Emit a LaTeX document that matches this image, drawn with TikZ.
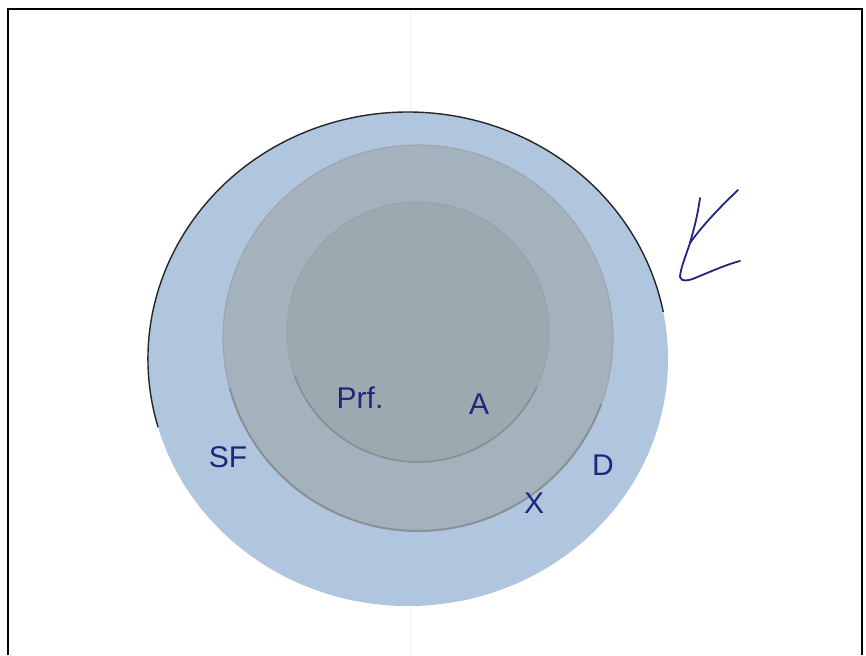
\documentclass[tikz,border=0pt]{standalone}
\usepackage{fontspec}
\setmainfont{Liberation Sans}
\begin{document}
\begin{tikzpicture}[x=1pt,y=-1pt,
  hand/.style={text=ink, font=\fontsize{30}{32}\selectfont, inner sep=0pt},
  pen/.style={draw=ink, line width=1.8pt, line cap=round, line join=round}]
\definecolor{ink}{RGB}{32,38,125}
\definecolor{outerc}{RGB}{176,198,222}
\definecolor{midc}{RGB}{164,178,190}
\definecolor{innc}{RGB}{157,169,176}
\useasboundingbox (0,0) rectangle (866,655);
\fill[white] (0,0) rectangle (866,655);
% frame
\draw[line width=1.3pt] (8,655) -- (8,9) -- (862,9) -- (862,655);
% faint fold line
\draw[gray!12, line width=0.8pt] (410,10) -- (410,112);
\draw[gray!12, line width=0.8pt] (410,605) -- (410,655);
% circles
\fill[outerc] (408,359) ellipse [x radius=260, y radius=247];
\draw[black!85, line width=1.4pt] (408,359) ++(164:260 and 247) arc[start angle=164, end angle=349, x radius=260, y radius=247];
\fill[midc] (418,338) ellipse [x radius=195, y radius=193];
\draw[black!40, line width=1.2pt, opacity=0.6] (418,338) ellipse [x radius=195, y radius=193];
\draw[black!55, line width=2.2pt, opacity=0.45] (418,338) ++(20:195 and 193) arc[start angle=20, end angle=165, x radius=195, y radius=193];
\fill[innc] (418,332) ellipse [x radius=131, y radius=130];
\draw[black!40, line width=1pt, opacity=0.6] (418,332) ellipse [x radius=131, y radius=130];
\draw[black!55, line width=1.8pt, opacity=0.4] (418,332) ++(25:131 and 130) arc[start angle=25, end angle=160, x radius=131, y radius=130];
% labels
\node[hand] (prf) at (360,398) {Prf.};
\node[hand] (a) at (479,404) {A};
\node[hand] (sf) at (228,457) {SF};
\node[hand] (x) at (534,503) {X};
\node[hand] (d) at (603,465) {D};
% scribbled mark
\draw[pen] (700,198) .. controls (697,220) and (692,235) .. (690,243) .. controls (686,255) and (680,270) .. (680,277) .. controls (681,282) and (688,281) .. (695,278) .. controls (712,271) and (728,264) .. (740,261);
\draw[pen] (738,190) .. controls (720,207) and (702,226) .. (690,243);
\end{tikzpicture}
\end{document}
